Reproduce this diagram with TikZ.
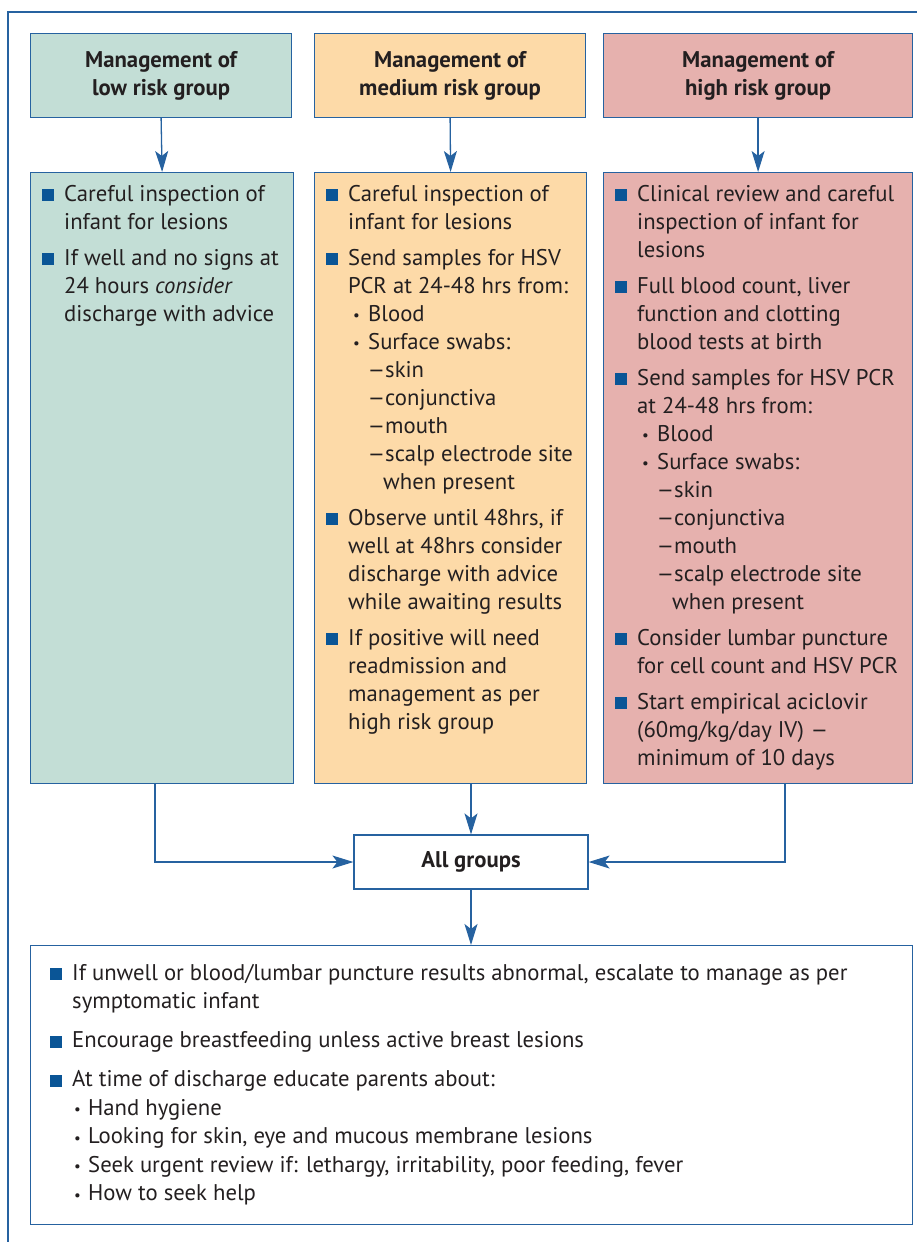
\documentclass[tikz,border=0pt]{standalone}
\usepackage{fontspec}
\setmainfont{PT Sans}
\usetikzlibrary{arrows.meta}
\definecolor{lowc}{RGB}{195,222,214}
\definecolor{medc}{RGB}{253,218,168}
\definecolor{highc}{RGB}{230,177,174}
\definecolor{framec}{RGB}{38,98,160}
\definecolor{bul}{RGB}{10,85,150}
\definecolor{txt}{RGB}{35,31,32}
\newcommand\B{\makebox[22pt][l]{\textcolor{bul}{\rule{12pt}{12pt}}}}
\newcommand\I{\hspace*{22pt}}
\newcommand\sdot{\raisebox{0.5pt}{\fontsize{15pt}{15pt}\selectfont •}}
\newcommand\wdash{\scalebox{1.25}[1]{–}}
\newcommand\D{\makebox[20pt][l]{\hspace{5pt}\sdot}}
\newcommand\DS{\hspace*{19pt}\makebox[18pt][l]{\wdash}}
\newcommand\W{\hspace*{35pt}}
\newcommand\E{\makebox[16pt][l]{\hspace{2pt}\sdot}}
\newcommand\fs{\fontsize{22.7pt}{28pt}\selectfont}
\newcommand\fsb{\fontsize{22.7pt}{28.5pt}\selectfont}
\begin{document}
\begin{tikzpicture}[x=1pt,y=-1pt,
  hdr/.style={draw=framec, line width=1.2pt, anchor=north west, inner sep=0pt,
    align=center, text=txt, font=\fs\bfseries},
  cbox/.style={draw=framec, line width=1.2pt, anchor=north west, inner sep=0pt},
  txtn/.style={anchor=base west, inner sep=0pt, text=txt, font=\fs},
  arr/.style={draw=framec, line width=1.3pt, -{Stealth[length=21pt,width=13pt,inset=5pt]}},
  ln/.style={draw=framec, line width=1.3pt}]
\useasboundingbox (0,0) rectangle (917,1242);
\clip (0,0) rectangle (917,1242);
% outer frame
\draw[ln, line width=1.2pt] (8,1270) -- (8,12) -- (940,12);
% headers
\node[hdr, fill=lowc, minimum width=261pt, minimum height=84pt] (h1) at (30,33) {Management of\\low risk group};
\node[hdr, fill=medc, minimum width=271pt, minimum height=84pt] (h2) at (314,33) {Management of\\medium risk group};
\node[hdr, fill=highc, minimum width=309pt, minimum height=84pt] (h3) at (603,33) {Management of\\high risk group};
% content boxes
\node[cbox, fill=lowc, minimum width=263pt, minimum height=611pt] (c1) at (30,172) {};
\node[cbox, fill=medc, minimum width=272pt, minimum height=611pt] (c2) at (314,172) {};
\node[cbox, fill=highc, minimum width=309pt, minimum height=611pt] (c3) at (603,172) {};
% texts
\node[txtn] (t1) at (42,201) {\parbox[t]{250pt}{\fs
\B Careful inspection of\\
\I infant for lesions\\[8pt]
\B If well and no signs at\\
\I 24 hours \textit{consider}\\
\I discharge with advice}};
\node[txtn] (t2) at (326,201) {\parbox[t]{258pt}{\fs
\B Careful inspection of\\
\I infant for lesions\\[8pt]
\B Send samples for HSV\\
\I PCR at 24-48 hrs from:\\
\I\D Blood\\
\I\D Surface swabs:\\
\I\DS skin\\
\I\DS conjunctiva\\
\I\DS mouth\\
\I\DS scalp electrode site\\
\I\W when present\\[8pt]
\B Observe until 48hrs, if\\
\I well at 48hrs consider\\
\I discharge with advice\\
\I while awaiting results\\[8pt]
\B If positive will need\\
\I readmission and\\
\I management as per\\
\I high risk group}};
\node[txtn] (t3) at (615,201) {\parbox[t]{295pt}{\fs
\B Clinical review and careful\\
\I inspection of infant for\\
\I lesions\\[8pt]
\B Full blood count, liver\\
\I function and clotting\\
\I blood tests at birth\\[8pt]
\B Send samples for HSV PCR\\
\I at 24-48 hrs from:\\
\I\D Blood\\
\I\D Surface swabs:\\
\I\DS skin\\
\I\DS conjunctiva\\
\I\DS mouth\\
\I\DS scalp electrode site\\
\I\W when present\\[8pt]
\B Consider lumbar puncture\\
\I for cell count and HSV PCR\\[8pt]
\B Start empirical aciclovir\\
\I (60mg/kg/day IV) \wdash\\
\I minimum of 10 days}};
% all groups
\node[draw=framec, line width=1.2pt, minimum width=234pt, minimum height=54pt, inner sep=0pt,
  text=txt, font=\fs\bfseries] (ag) at (471,862) {All groups};
% bottom box
\node[cbox, minimum width=882pt, minimum height=279pt] (bb) at (30,945) {};
\node[txtn] (t4) at (50,980) {\parbox[t]{855pt}{\fsb
\B If unwell or blood/lumbar puncture results abnormal, escalate to manage as per\\
\I symptomatic infant\\[10.5pt]
\B Encourage breastfeeding unless active breast lesions\\[10.5pt]
\B At time of discharge educate parents about:\\
\I\E Hand hygiene\\
\I\E Looking for skin, eye and mucous membrane lesions\\
\I\E Seek urgent review if: lethargy, irritability, poor feeding, fever\\
\I\E How to seek help}};
% arrows
\draw[arr] (h1.south) -- (c1.north);
\draw[arr] (h2.south) -- (c2.north);
\draw[arr] (h3.south) -- (c3.north);
\coordinate (m1) at (155,862);
\coordinate (m3) at (785,862);
\draw[arr] (c1.south -| m1) -- (m1) -- (ag.west);
\draw[arr] (c2.south -| ag.north) -- (ag.north);
\draw[arr] (c3.south -| m3) -- (m3) -- (ag.east);
\draw[arr] (ag.south) -- (bb.north -| ag.south);
\end{tikzpicture}
\end{document}
